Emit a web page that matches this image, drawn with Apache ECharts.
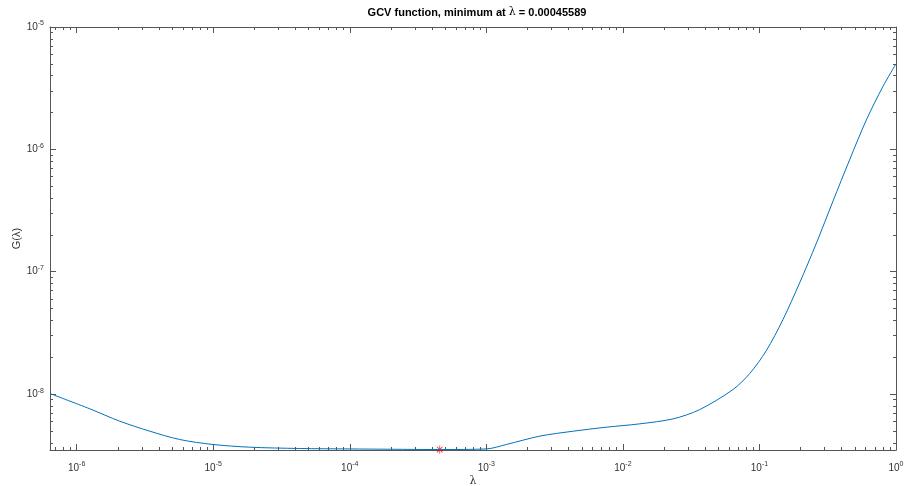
<!DOCTYPE html>
<html>
<head>
<meta charset="utf-8">
<script src="https://cdn.jsdelivr.net/npm/echarts@6/dist/echarts.min.js"></script>
<style>
  html, body { margin: 0; padding: 0; background: #fff; }
  #chart { width: 906px; height: 486px; }
</style>
</head>
<body>
<div id="chart"></div>
<script>
// lambda values and GCV values
const lambdaValues = [6.38e-7, 1.25e-6, 2.07e-6, 3.44e-6, 5.69e-6, 1e-5, 1.85e-5, 4.3e-5, 1e-4, 2e-4,
  4.56e-4, 1e-3, 1.4e-3, 2.46e-3, 4.32e-3, 7.57e-3, 1.33e-2, 2.33e-2, 3.65e-2, 6.4e-2,
  8.48e-2, 0.1122, 0.1486, 0.1968, 0.2612, 0.3451, 0.4571, 0.6067, 0.8017, 1]
const gcvValues = [1.01e-8, 7.57e-9, 6.0e-9, 4.97e-9, 4.25e-9, 3.87e-9, 3.68e-9, 3.59e-9, 3.56e-9, 3.54e-9,
  3.52e-9, 3.56e-9, 3.87e-9, 4.53e-9, 4.97e-9, 5.36e-9, 5.71e-9, 6.27e-9, 7.46e-9, 1.089e-8,
  1.47e-8, 2.26e-8, 4.06e-8, 8.09e-8, 1.71e-7, 3.76e-7, 8.2e-7, 1.74e-6, 3.26e-6, 5.0e-6]
const minLambda = 0.00045589
const minGcv = 3.52e-9
const xDecades = [-6, -5, -4, -3, -2, -1, 0]
const yDecades = [-8, -7, -6, -5]
const xRange = [Math.log10(6.38e-7), 0]
const yRange = [Math.log10(3.49e-9), -5]

function minorTicks(decades, range) {
    const out = []
    for (let d = decades[0] - 1; d <= decades[decades.length - 1]; d++) {
        for (let k = 2; k <= 9; k++) {
            const v = d + Math.log10(k)
            if (v > range[0] && v < range[1]) out.push(v)
        }
    }
    return out
}

const axisColor = '#555'
const textColor = '#333'
const fontFamily = 'Liberation Sans, Arial, sans-serif'
const supLabel = v => '{b|10}{s|' + v + '}'
const labelRich = {
    b: { fontSize: 10, color: textColor, fontFamily: fontFamily },
    s: { fontSize: 7, color: textColor, fontFamily: fontFamily, padding: [0, 0, 7, 0] }
}

function makeAxes(range, decades, positions, labelMargin, nameOpts) {
    const axes = []
    positions.forEach((pos, i) => {
        // major ticks (with labels on the first side)
        axes.push(Object.assign({
            type: 'value', position: pos, min: range[0], max: range[1],
            axisLine: { show: true, onZero: false, lineStyle: { color: axisColor, width: 1 } },
            axisTick: { show: true, inside: true, length: 6, customValues: decades, lineStyle: { color: axisColor } },
            axisLabel: i === 0 ? {
                show: true, customValues: decades, formatter: supLabel, rich: labelRich, margin: labelMargin
            } : { show: false },
            splitLine: { show: false }
        }, i === 0 ? nameOpts : {}))
        // minor ticks
        axes.push({
            type: 'value', position: pos, min: range[0], max: range[1],
            axisLine: { show: false, onZero: false },
            axisTick: { show: true, inside: true, length: 3, customValues: minorTicks(decades, range), lineStyle: { color: axisColor } },
            axisLabel: { show: false },
            splitLine: { show: false }
        })
    })
    return axes
}

const chart = echarts.init(document.getElementById('chart'))
const option = {
    animation: false,
    backgroundColor: '#fff',
    title: {
        text: '{b|GCV function, minimum at }{l|λ}{b| = 0.00045589}',
        left: 472, top: 2, textAlign: 'center',
        textStyle: {
            rich: {
                b: { fontSize: 11, fontWeight: 'bold', color: '#000', fontFamily: fontFamily },
                l: { fontSize: 11, fontWeight: 'normal', color: '#000', fontFamily: 'DejaVu Serif, serif' }
            }
        }
    },
    grid: { left: 50, right: 10, top: 27, bottom: 36, outerBoundsMode: 'none' },
    xAxis: makeAxes(xRange, xDecades, ['bottom', 'top'], 11, {
        name: 'λ', nameLocation: 'middle', nameGap: 26, nameMoveOverlap: false,
        nameTextStyle: { fontSize: 11, color: textColor, fontFamily: 'DejaVu Serif, serif' }
    }),
    yAxis: makeAxes(yRange, yDecades, ['left', 'right'], 6, {
        name: 'G(λ)', nameLocation: 'middle', nameGap: 28, nameMoveOverlap: false,
        nameTextStyle: { fontSize: 11, color: textColor, fontFamily: fontFamily }
    }),
    series: [
        {
            type: 'line',
            xAxisIndex: 0, yAxisIndex: 0,
            smooth: 0.3,
            showSymbol: false,
            lineStyle: { color: '#0072BD', width: 1 },
            data: lambdaValues.map((l, i) => [Math.log10(l), Math.log10(gcvValues[i])])
        },
        {
            type: 'scatter',
            xAxisIndex: 0, yAxisIndex: 0,
            symbol: 'path://M-0.5,-5H0.5V5H-0.5Z M-5,-0.5H5V0.5H-5Z M-3.1,-3.9L3.9,3.1L3.1,3.9L-3.9,-3.1Z M3.1,-3.9L3.9,-3.1L-3.1,3.9L-3.9,3.1Z',
            symbolSize: 8,
            itemStyle: { color: '#ff0000' },
            data: [[Math.log10(minLambda), Math.log10(minGcv)]]
        }
    ]
}
chart.setOption(option)
</script>
</body>
</html>
